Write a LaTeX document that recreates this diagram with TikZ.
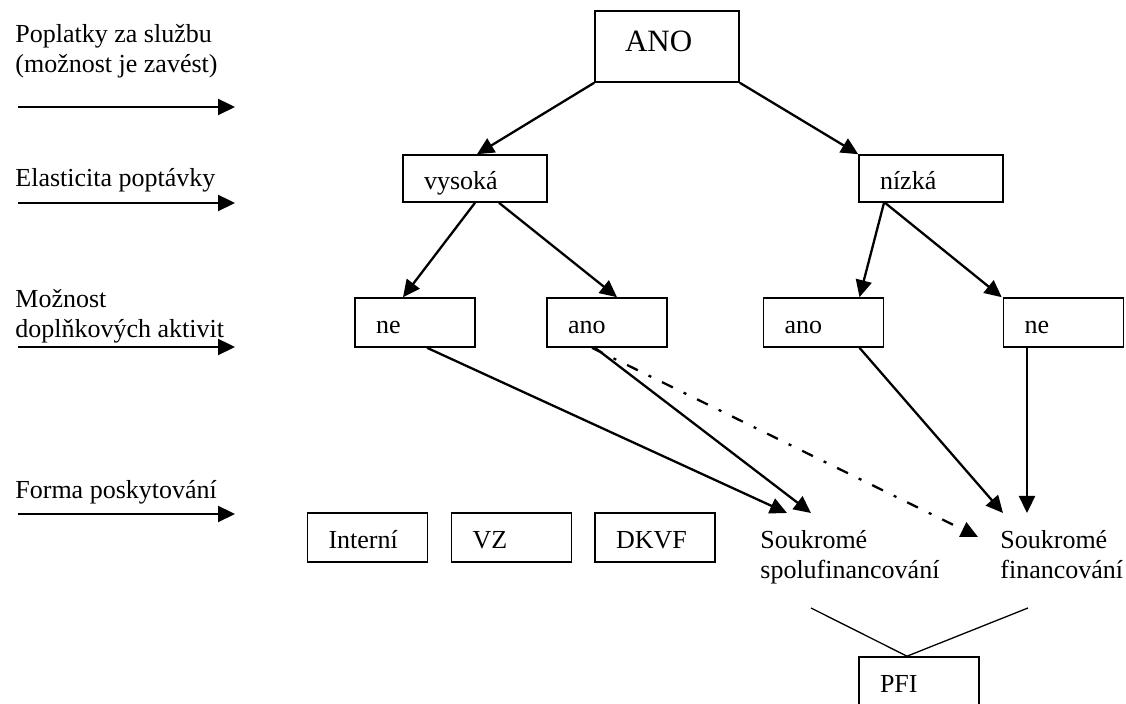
\documentclass[tikz,border=0pt]{standalone}
\usepackage{fontspec}
\setmainfont{Liberation Serif}
\usetikzlibrary{arrows.meta,calc}
\begin{document}
\begin{tikzpicture}[x=0.5pt,y=-0.5pt,
  every node/.style={inner sep=0pt},
  txt/.style={font=\fontsize{13}{15}\selectfont, align=left, anchor=base west},
  bx/.style={draw, line width=0.8pt, font=\fontsize{13}{15}\selectfont, align=left,
    inner xsep=10.5pt, inner ysep=0pt, text height=12.5pt, text depth=1pt,
    minimum height=24.5pt, text width=#1},
  bx/.default=39pt,
  arr/.style={line width=1.15pt, -{Triangle[length=8.5pt,width=8pt]}},
  dashdot/.style={line width=1.15pt, dash pattern=on 6pt off 6pt on 1.5pt off 6pt, -{Triangle[length=8.5pt,width=8pt]}},
  thinline/.style={line width=0.65pt}
]
\useasboundingbox (0,0) rectangle (1126,704);

% left labels and arrows
\node[txt] (l1) at (15,73) {Poplatky za službu\\(možnost je zavést)};
\node[txt] (l2) at (15,187) {Elasticita poptávky};
\node[txt] (l3) at (15,338) {Možnost\\doplňkových aktivit};
\node[txt] (l4) at (15,499) {Forma poskytování};
\coordinate (a1s) at (18,107); \coordinate (a1e) at (235,107);
\coordinate (a2s) at (18,203); \coordinate (a2e) at (235,203);
\coordinate (a3s) at (18,347); \coordinate (a3e) at (235,347);
\coordinate (a4s) at (18,514); \coordinate (a4e) at (235,514);
\draw[arr] (a1s) -- (a1e);
\draw[arr] (a2s) -- (a2e);
\draw[arr] (a3s) -- (a3e);
\draw[arr] (a4s) -- (a4e);

% tree boxes
\node[bx=42pt, inner xsep=15pt, minimum height=35.5pt, text height=9pt, text depth=3.5pt,
  font=\fontsize{15.5}{18}\selectfont] (ano) at (667,46.5) {ANO};
\node[bx=51pt, minimum height=23.5pt] (vys) at (475,178.5) {vysoká};
\node[bx=51pt, minimum height=23.5pt] (niz) at (931,178.5) {nízká};
\node[bx] (neL) at (415,322.5) {ne};
\node[bx] (anoL) at (607,322.5) {ano};
\node[bx] (anoR) at (823.5,322.5) {ano};
\node[bx] (neR) at (1063.5,322.5) {ne};

% bottom row
\node[bx] (int) at (367.5,537.5) {Interní};
\node[bx] (vz) at (511.5,537.5) {VZ};
\node[bx] (dkvf) at (655,537.5) {DKVF};
\node[txt] (spf) at (760,579) {Soukromé\\spolufinancování};
\node[txt] (fin) at (1000,579) {Soukromé\\financování};
\node[bx] (pfi) at (919,681.5) {PFI};

% arrow target points
\coordinate (t1) at (787,513);
\coordinate (t2) at (811,513);
\coordinate (t3) at (978,537);
\coordinate (t4) at (1003,513);
\coordinate (t5) at (1027,513);
\coordinate (v1) at (811,608);
\coordinate (v2) at (1028,608);

% tree connectors
\draw[arr] (ano.south west) -- ([xshift=1pt]vys.north);
\draw[arr] (ano.south east) -- (niz.north west);
\draw[arr] (vys.south) -- ([xshift=-6pt]neL.north);
\draw[arr] ([xshift=12pt]vys.south) -- ([xshift=5pt]anoL.north);
\draw[arr] ([xshift=-23.5pt]niz.south) -- ([xshift=18pt]anoR.north);
\draw[arr] ([xshift=-23pt]niz.south) -- ([xshift=-0.5pt]neR.north west);

\draw[arr] ([xshift=6pt]neL.south) -- (t1);
\draw[arr] ([xshift=-6pt]anoL.south) -- (t2);
\draw[dashdot] ([xshift=-7.5pt]anoL.south) -- (t3);
\draw[arr] ([xshift=18pt]anoR.south) -- (t4);
\draw[arr] (neR.south -| t5) -- (t5);

\draw[thinline] (v1) -- ([xshift=-6pt]pfi.north) -- (v2);
\end{tikzpicture}
\end{document}
